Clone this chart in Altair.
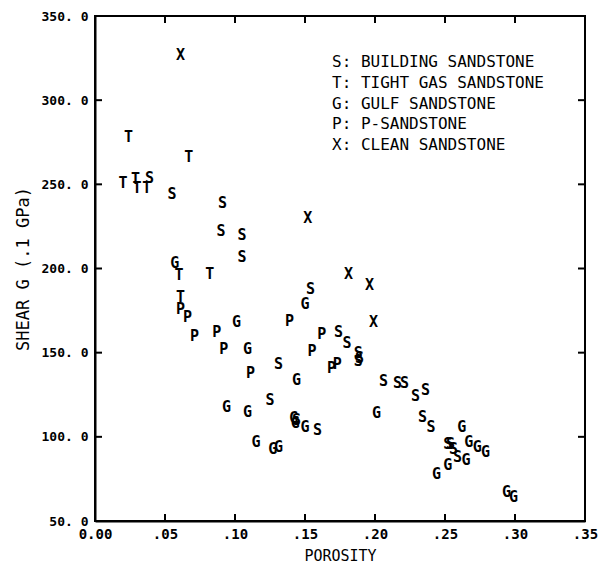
import altair as alt
import pandas as pd

# Building sandstone (S)
s_por = [0.039, 0.055, 0.091, 0.090, 0.105, 0.105, 0.154, 0.174, 0.180, 0.188, 0.189, 0.188,
         0.131, 0.125, 0.206, 0.216, 0.221, 0.229, 0.236, 0.234, 0.240, 0.252, 0.254, 0.256,
         0.259, 0.159, 0.144]
s_g = [254, 244, 239, 222, 220, 207, 188, 162, 156, 150, 147, 145,
       143, 122, 133, 132, 132, 124, 128, 112, 106, 96, 96, 93,
       88, 104, 110]
# Tight gas sandstone (T)
t_por = [0.024, 0.020, 0.029, 0.030, 0.037, 0.067, 0.060, 0.082, 0.061]
t_g = [278, 251, 253, 248, 248, 266, 196, 197, 183]
# Gulf sandstone (G)
g_por = [0.057, 0.101, 0.150, 0.109, 0.144, 0.094, 0.109, 0.115, 0.127, 0.131, 0.142, 0.143,
         0.150, 0.201, 0.262, 0.267, 0.273, 0.279, 0.265, 0.252, 0.244, 0.294, 0.299]
g_g = [203, 168, 179, 152, 134, 118, 115, 97, 93, 94, 111, 108,
       106, 114, 106, 97, 94, 91, 86, 83, 78, 67, 64]
# P-sandstone (P)
p_por = [0.061, 0.066, 0.071, 0.087, 0.092, 0.111, 0.139, 0.155, 0.162, 0.169, 0.173]
p_g = [176, 171, 160, 162, 152, 138, 169, 151, 161, 141, 143]
# Clean sandstone (X)
x_por = [0.061, 0.152, 0.181, 0.196, 0.199]
x_g = [327, 230, 197, 190, 168]

legend_codes = ["S", "T", "G", "P", "X"]
legend_names = ["BUILDING SANDSTONE", "TIGHT GAS SANDSTONE", "GULF SANDSTONE",
                "P-SANDSTONE", "CLEAN SANDSTONE"]

x_ticks = [0.0, 0.05, 0.10, 0.15, 0.20, 0.25, 0.30, 0.35]
y_ticks = [50, 100, 150, 200, 250, 300, 350]

rows = []
for code, xs, ys in [("S", s_por, s_g), ("T", t_por, t_g), ("G", g_por, g_g),
                     ("P", p_por, p_g), ("X", x_por, x_g)]:
    rows += [{"code": code, "porosity": a, "shear": b} for a, b in zip(xs, ys)]
df = pd.DataFrame(rows)

leg = pd.DataFrame({"label": [f"{c}: {n}" for c, n in zip(legend_codes, legend_names)],
                    "row": list(range(len(legend_codes)))})

xt = pd.DataFrame({"porosity": x_ticks[1:-1]})
yt = pd.DataFrame({"shear": y_ticks[1:-1]})

MONO = "DejaVu Sans Mono"
xscale = alt.Scale(domain=[0, 0.35], nice=False, zero=False)
yscale = alt.Scale(domain=[50, 350], nice=False, zero=False)

xaxis = alt.Axis(values=x_ticks, tickSize=0, labelPadding=6,
                 labelExpr="datum.value == 0 ? '0.00' : replace(format(datum.value, '.2f'), '0.', '.')",
                 title="POROSITY", titleFont=MONO, titleFontSize=15, titleFontWeight="normal",
                 titlePadding=7, labelFont=MONO, labelFontSize=14, labelFontWeight="bold",
                 labelColor="black",
                 titleColor="black", domainColor="black", domainWidth=2, grid=False,
                 labelFlush=False, labelOverlap=False)
yaxis = alt.Axis(values=y_ticks, tickSize=0, labelPadding=7,
                 labelExpr="replace(format(datum.value, '.1f'), '.', '. ')",
                 title="SHEAR G (.1 GPa)", titleFont=MONO, titleFontSize=17, titleFontWeight="normal",
                 titlePadding=9, labelFont=MONO, labelFontSize=13, labelFontWeight="bold",
                 labelColor="black",
                 titleColor="black", domainColor="black", domainWidth=2, grid=False,
                 labelFlush=False, labelOverlap=False)

X = alt.X("porosity:Q", scale=xscale, axis=xaxis)
Y = alt.Y("shear:Q", scale=yscale, axis=yaxis)

points = alt.Chart(df).mark_text(font=MONO, fontSize=15, fontWeight="bold", color="black").encode(
    x=X, y=Y, text="code:N")

tick_bottom = alt.Chart(xt).mark_rule(color="black", strokeWidth=2).encode(
    x=X, y=alt.value(505), y2=alt.value(498))
tick_top = alt.Chart(xt).mark_rule(color="black", strokeWidth=2).encode(
    x=X, y=alt.value(0), y2=alt.value(7))
tick_left = alt.Chart(yt).mark_rule(color="black", strokeWidth=2).encode(
    y=Y, x=alt.value(0), x2=alt.value(7))
tick_right = alt.Chart(yt).mark_rule(color="black", strokeWidth=2).encode(
    y=Y, x=alt.value(483), x2=alt.value(490))

legend_text = alt.Chart(leg).mark_text(font=MONO, fontSize=16, align="left", baseline="middle",
                                       color="black").encode(
    x=alt.value(237),
    y=alt.YValue(alt.expr("46 + datum.row * 20.8")) if hasattr(alt, "YValue") else alt.value(46),
    text="label:N")

chart = alt.layer(points, tick_bottom, tick_top, tick_left, tick_right, legend_text).properties(
    width=490, height=505,
    autosize=alt.AutoSizeParams(type="none"),
    padding={"left": 95, "top": 16, "right": 21, "bottom": 48},
    background="white",
).configure_view(stroke="black", strokeWidth=2)

chart.save("out.html", embed_options={"renderer": "svg", "actions": False})
